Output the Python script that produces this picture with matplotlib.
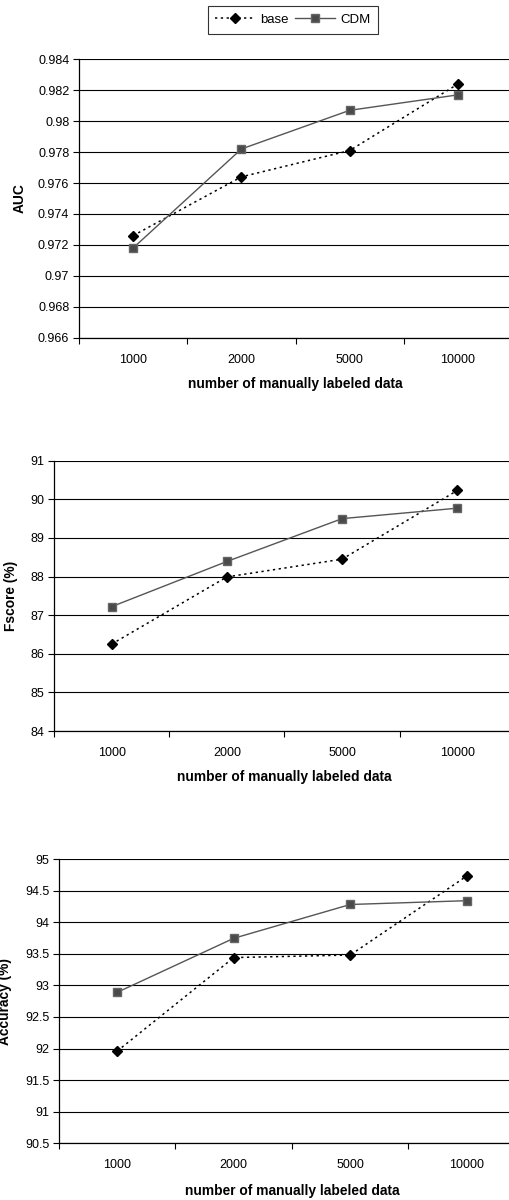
import matplotlib.pyplot as plt
from matplotlib.ticker import FuncFormatter, FixedLocator

plt.rcParams['font.family'] = ['Liberation Sans', 'DejaVu Sans']

SIZES = ['1000', '2000', '5000', '10000']
X_LABEL = 'number of manually labeled data'

AUC_BASE = [0.9726, 0.9764, 0.9781, 0.9824]
AUC_CDM = [0.9718, 0.9782, 0.9807, 0.9817]
AUC_TICKS = [0.966, 0.968, 0.970, 0.972, 0.974, 0.976, 0.978, 0.980, 0.982, 0.984]

F_BASE = [86.25, 87.99, 88.45, 90.23]
F_CDM = [87.22, 88.39, 89.50, 89.77]
F_TICKS = [84, 85, 86, 87, 88, 89, 90, 91]

ACC_BASE = [91.96, 93.44, 93.48, 94.73]
ACC_CDM = [92.89, 93.745, 94.28, 94.34]
ACC_TICKS = [90.5, 91, 91.5, 92, 92.5, 93, 93.5, 94, 94.5, 95]

W, H = 510, 1200
BASE_STYLE = dict(color='black', linestyle=(0, (1.5, 2.3)), linewidth=1.1,
                  marker='D', markersize=4.8, markerfacecolor='black', markeredgecolor='black')
CDM_STYLE = dict(color='#555555', linestyle='-', linewidth=1.0,
                 marker='s', markersize=6, markerfacecolor='#4a4a4a', markeredgecolor='#666666')


def px_rect(left, right, top, bottom):
    return [left / W, 1 - bottom / H, (right - left) / W, (bottom - top) / H]


def draw_panel(fig, rect, base, cdm, yticks, ylabel, ylabel_x, label_pad):
    ax = fig.add_axes(rect)
    x = list(range(len(SIZES)))
    line_base, = ax.plot(x, base, **BASE_STYLE)
    line_cdm, = ax.plot(x, cdm, **CDM_STYLE)
    ax.set_xlim(-0.5, len(SIZES) - 0.5)
    ax.set_ylim(yticks[0], yticks[-1])
    ax.set_yticks(yticks)
    ax.yaxis.set_major_formatter(FuncFormatter(lambda v, p: '{:g}'.format(round(v, 4))))
    ax.set_xticks(x)
    ax.set_xticklabels(SIZES)
    ax.xaxis.set_minor_locator(FixedLocator([-0.5, 0.5, 1.5, 2.5, 3.5]))
    ax.tick_params(axis='x', which='major', length=0, pad=11.5, labelsize=9)
    ax.tick_params(axis='x', which='minor', length=4, width=0.8, direction='out')
    ax.tick_params(axis='y', length=4, width=0.8, direction='out', pad=3, labelsize=9)
    ax.grid(axis='y', color='black', linewidth=0.8)
    ax.set_axisbelow(True)
    for side in ['top', 'right']:
        ax.spines[side].set_visible(False)
    for side in ['left', 'bottom']:
        ax.spines[side].set_linewidth(0.9)
    ax.set_xlabel(X_LABEL, fontsize=9.9, fontweight='bold', labelpad=label_pad)
    ax.set_ylabel(ylabel, fontsize=9.9, fontweight='bold')
    ax.yaxis.set_label_coords(ylabel_x, 0.5)
    return ax, line_base, line_cdm


fig = plt.figure(figsize=(W / 100, H / 100), dpi=100)

ax1, lb, lc = draw_panel(fig, px_rect(79, 512, 59.3, 337.7), AUC_BASE, AUC_CDM, AUC_TICKS,
                         'AUC', -0.120, 8)
ax2, _, _ = draw_panel(fig, px_rect(54, 515, 460.7, 731), F_BASE, F_CDM, F_TICKS,
                       'Fscore (%)', -0.078, 8)
ax3, _, _ = draw_panel(fig, px_rect(59, 525, 859, 1143.3), ACC_BASE, ACC_CDM, ACC_TICKS,
                       'Accuracy (%)', -0.100, 9.5)

leg = fig.legend([lb, lc], ['base', 'CDM'], loc='center', ncol=2,
                 bbox_to_anchor=(293 / W, 1 - 20 / H), fontsize=9.5, frameon=True,
                 fancybox=False, edgecolor='black', handlelength=3.0, columnspacing=0.5,
                 handletextpad=0.4, borderpad=0.6, borderaxespad=0)
leg.get_frame().set_linewidth(0.8)

fig.savefig('out.png', dpi=100)
